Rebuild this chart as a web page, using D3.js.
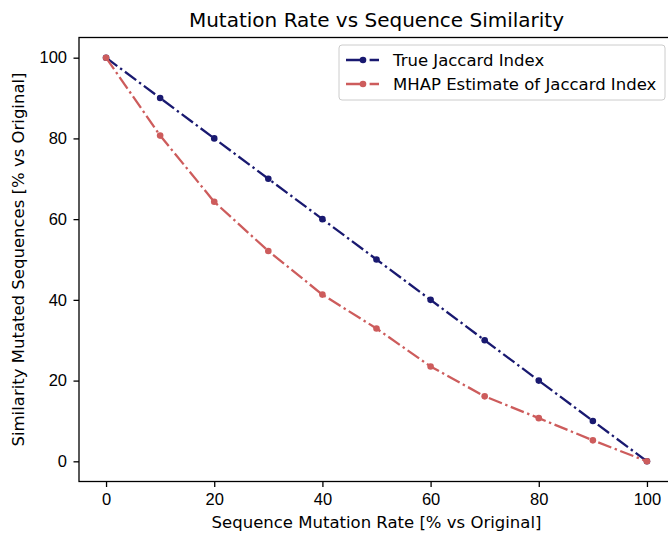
<!DOCTYPE html>
<html lang="en">
<head>
<meta charset="UTF-8">
<title>Mutation Rate vs Sequence Similarity</title>
<style>
    body{ margin:0; background:#fff; }
    svg{ display:block; font-family:"DejaVu Sans", sans-serif; }
    .axis text{ font-size:16.5px; fill:#000; }
    .axis path, .axis line{ stroke:#000; stroke-width:1.3; }
</style>
</head>
<body>
<svg width="668" height="533"></svg>
<script src="https://d3js.org/d3.v7.min.js"></script>
<script>
// data
var mutationRate = [0, 10, 20, 30, 40, 50, 60, 70, 80, 90, 100];
var trueJaccard = [100, 90, 80, 70, 60, 50, 40, 30, 20, 10, 0];
var mhapJaccard = [100, 80.7, 64.3, 52.1, 41.3, 32.9, 23.5, 16.1, 10.7, 5.2, 0];
var xTicks = [0, 20, 40, 60, 80, 100];
var yTicks = [0, 20, 40, 60, 80, 100];
var seriesNames = ["True Jaccard Index", "MHAP Estimate of Jaccard Index"];
var seriesColors = ["#191970", "#cd5c5c"];

var svg = d3.select("svg"),
    margin = {top: 37.5, right: -6, bottom: 51.5, left: 79},
    width = +svg.attr("width") - margin.left - margin.right,
    height = +svg.attr("height") - margin.top - margin.bottom;

var x = d3.scaleLinear().domain([-5, 105]).range([0, width]);
var y = d3.scaleLinear().domain([-5, 105]).range([height, 0]);

var g = svg.append("g")
    .attr("transform", "translate(" + margin.left + "," + margin.top + ")");

var series = [trueJaccard, mhapJaccard].map(function(vals, i){
    return { name: seriesNames[i], color: seriesColors[i],
             points: vals.map(function(v, j){ return {x: mutationRate[j], y: v}; }) };
});

var line = d3.line().x(function(d){ return x(d.x); }).y(function(d){ return y(d.y); });
var dash = "14,3.6,2.4,3.6";

series.forEach(function(s){
    g.append("path")
        .datum(s.points)
        .attr("fill", "none")
        .attr("stroke", s.color)
        .attr("stroke-width", 2.3)
        .attr("stroke-dasharray", dash)
        .attr("d", line);
    g.selectAll(null)
        .data(s.points)
        .enter().append("circle")
        .attr("cx", function(d){ return x(d.x); })
        .attr("cy", function(d){ return y(d.y); })
        .attr("r", 3.3)
        .attr("fill", s.color);
});

// axes
g.append("g")
    .attr("class", "axis")
    .attr("transform", "translate(0," + height + ")")
    .call(d3.axisBottom(x).tickValues(xTicks).tickSize(5.5).tickPadding(6).tickSizeOuter(0))
    .call(function(a){ a.select(".domain").remove(); });
g.append("g")
    .attr("class", "axis")
    .call(d3.axisLeft(y).tickValues(yTicks).tickSize(5.5).tickPadding(6.5).tickSizeOuter(0))
    .call(function(a){ a.select(".domain").remove(); });

// frame
g.append("rect")
    .attr("width", width).attr("height", height)
    .attr("fill", "none").attr("stroke", "#000").attr("stroke-width", 1.3);

// title and labels
svg.append("text")
    .attr("x", margin.left + width / 2).attr("y", 27)
    .attr("text-anchor", "middle")
    .style("font-size", "20px")
    .text("Mutation Rate vs Sequence Similarity");
svg.append("text")
    .attr("x", margin.left + width / 2).attr("y", 528)
    .attr("text-anchor", "middle")
    .style("font-size", "16.5px")
    .text("Sequence Mutation Rate [% vs Original]");
svg.append("text")
    .attr("transform", "translate(24," + (margin.top + height / 2) + ") rotate(-90)")
    .attr("text-anchor", "middle")
    .style("font-size", "16.5px")
    .text("Similarity Mutated Sequences [% vs Original]");

// legend
var legend = svg.append("g").attr("transform", "translate(339,45)");
legend.append("rect")
    .attr("width", 326).attr("height", 55).attr("rx", 3)
    .attr("fill", "#fff").attr("fill-opacity", 0.8)
    .attr("stroke", "#ccc");
series.forEach(function(s, i){
    var row = legend.append("g").attr("transform", "translate(0," + (15 + i * 24) + ")");
    row.append("line")
        .attr("x1", 7).attr("x2", 40)
        .attr("stroke", s.color).attr("stroke-width", 2.3)
        .attr("stroke-dasharray", dash);
    row.append("circle").attr("cx", 24).attr("r", 3.3).attr("fill", s.color);
    row.append("text")
        .attr("x", 54).attr("dy", "0.35em")
        .style("font-size", "16.5px")
        .text(s.name);
});
</script>
</body>
</html>
